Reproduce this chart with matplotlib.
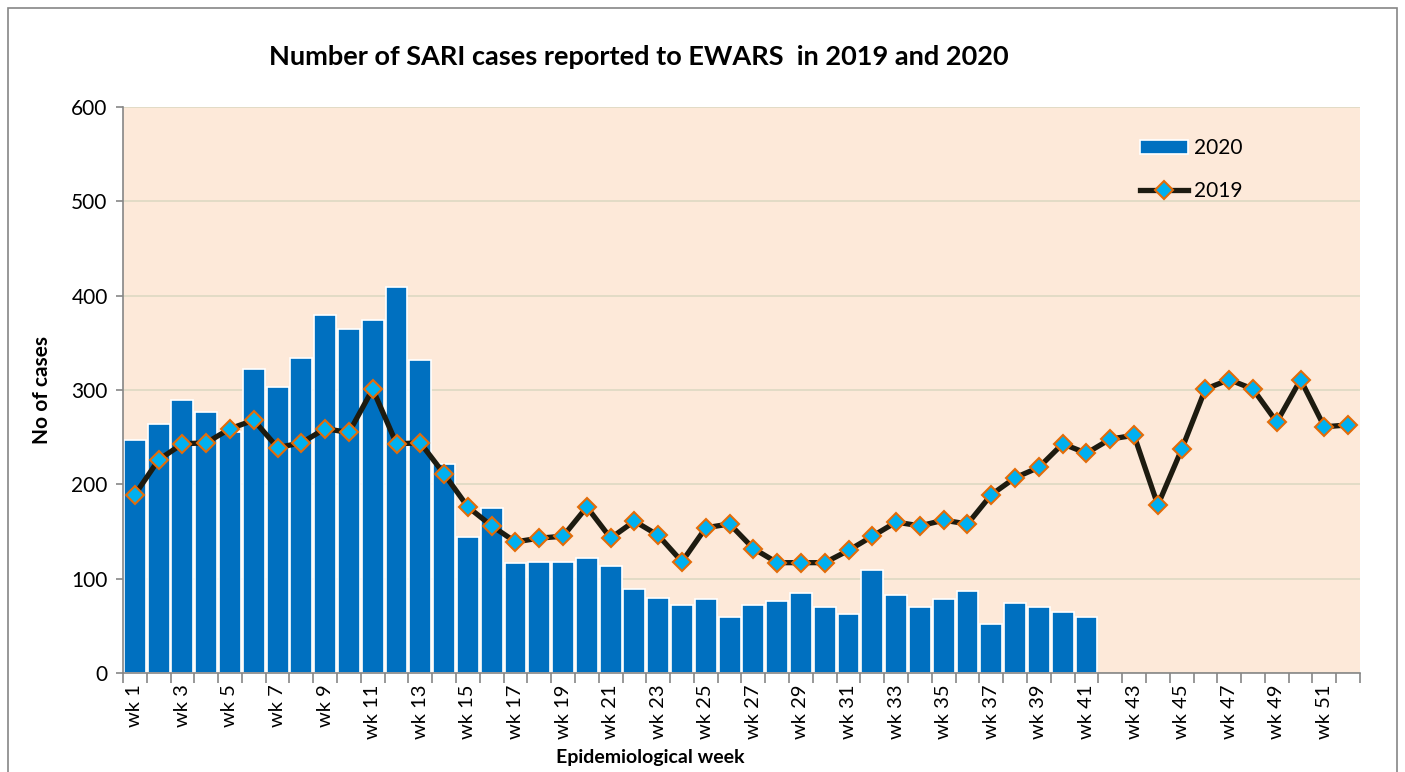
import matplotlib
matplotlib.use("Agg")
import matplotlib.pyplot as plt
from matplotlib.patches import Rectangle
import numpy as np

# ---- data ----
weeks = [f"wk {i}" for i in range(1, 53)]

cases_2020 = [247, 264, 289, 277, 255, 322, 303, 334, 380, 365,
              374, 409, 332, 222, 144, 175, 117, 118, 118, 122,
              113, 89, 80, 72, 78, 59, 72, 76, 85, 70,
              63, 109, 83, 70, 78, 87, 52, 74, 70, 65, 59]

cases_2019 = [189, 226, 243, 244, 259, 268, 239, 244, 259, 255,
              301, 243, 244, 211, 176, 156, 139, 143, 145, 176,
              143, 161, 146, 118, 154, 158, 132, 117, 117, 117,
              130, 145, 160, 156, 162, 158, 189, 207, 218, 243,
              233, 248, 252, 178, 237, 301, 311, 301, 266, 311,
              261, 263]

yticks = [0, 100, 200, 300, 400, 500, 600]

# ---- plot ----
plt.rcParams['font.family'] = ['Lato', 'DejaVu Sans']

fig = plt.figure(figsize=(14.05, 7.72), dpi=100)
ax = fig.add_axes([0.0875, 0.1282, 0.8805, 0.7332])
ax.set_facecolor("#FDE9D9")

x20 = np.arange(len(cases_2020))
x19 = np.arange(len(cases_2019))

bars = ax.bar(x20, cases_2020, width=0.92, color="#0070C0", edgecolor="white",
              linewidth=1.2, label="2020", zorder=2)
line, = ax.plot(x19, cases_2019, color="#1D1B10", linewidth=3.8, marker="D",
                markersize=9.5, markerfacecolor="#00B0F0", markeredgecolor="#E36C09",
                markeredgewidth=1.5, label="2019", zorder=3)

ax.set_xlim(-0.5, len(weeks) - 0.5)
ax.set_ylim(0, 600)
ax.set_yticks(yticks)
ax.set_yticklabels([str(v) for v in yticks], fontsize=15)
ax.grid(axis="y", color="#DDD9C3", linewidth=1.2, zorder=0)
ax.set_axisbelow(True)

# category labels (every other week), tick marks between categories
ax.set_xticks(np.arange(len(weeks)))
ax.set_xticklabels([w if i % 2 == 0 else "" for i, w in enumerate(weeks)],
                   rotation=90, fontsize=14.5)
ax.tick_params(axis="x", which="major", length=0, pad=8)
ax.set_xticks(np.arange(len(weeks) + 1) - 0.5, minor=True)
ax.tick_params(axis="x", which="minor", length=7, color="#868686", width=1.2)
ax.tick_params(axis="y", length=5, color="#868686", width=1.2, pad=6)

for s in ["top", "right"]:
    ax.spines[s].set_visible(False)
for s in ["left", "bottom"]:
    ax.spines[s].set_color("#868686")
    ax.spines[s].set_linewidth(1.2)

ax.set_ylabel("No of cases", fontsize=15, fontweight="bold", labelpad=14)
fig.text(0.4626, 0.019, "Epidemiological week", ha="center", va="center",
         fontsize=14, fontweight="bold")

fig.text(0.455, 0.926, "Number of SARI cases reported to EWARS  in 2019 and 2020",
         ha="center", va="center", fontsize=19.5, fontweight="bold")

ax.legend([bars, line], ["2020", "2019"], loc="upper left",
          bbox_to_anchor=(0.807, 0.978), frameon=False,
          fontsize=15, handlelength=2.3, labelspacing=1.1, handletextpad=0.3)

# outer chart border
fig.patches.append(Rectangle((0.006, -0.01), 0.988, 1.0, transform=fig.transFigure,
                             fill=False, edgecolor="#868686", linewidth=1.2))

fig.savefig("out.png", dpi=100)
